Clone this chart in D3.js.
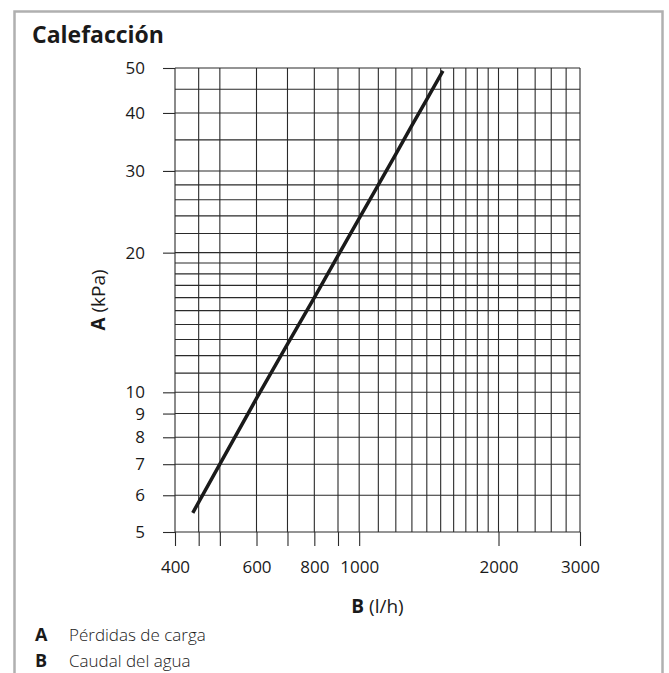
<!DOCTYPE html>
<html>
<head>
<meta charset="utf-8">
<script src="https://cdn.jsdelivr.net/npm/d3@7"></script>
<style>
  body { margin: 0; background: #fff; }
  svg text { font-family: "Open Sans", "Noto Sans", sans-serif; fill: #1a1a1a; }
</style>
</head>
<body>
<svg id="chart" width="669" height="673"></svg>
<script>
// caudal (l/h) y pérdidas de carga (kPa)
var flow = [437, 500, 600, 700, 800, 900, 1000, 1100, 1200, 1300, 1400, 1517];
var pressure = [5.5, 7.0, 9.7, 12.7, 16.0, 19.7, 23.7, 28.0, 32.6, 37.6, 42.8, 49.3];

var flowLabels = [400, 600, 800, 1000, 2000, 3000];
var flowTickMarks = [400, 450, 500, 600, 700, 800, 900, 1000, 2000, 3000];
var flowGrid = [400, 450, 500, 600, 700, 800, 900, 1000, 1100, 1200, 1300, 1400, 1500,
    1600, 1700, 1800, 1900, 2000, 2200, 2400, 2600, 2800, 3000];

var pressureLabels = [5, 6, 7, 8, 9, 10, 20, 30, 40, 50];
var pressureGrid = [5, 6, 7, 8, 9, 10, 11, 12, 13, 14, 15, 16, 17, 18, 19, 20,
    22, 24, 26, 28, 30, 35, 40, 45, 50];

var legendKeys = ["A", "B"];
var legendTexts = ["Pérdidas de carga", "Caudal del agua"];

(function() {

    var svg = d3.select("#chart"),
        left = 175, right = 580, top = 68, bottom = 532;

    var x = d3.scaleLog().domain([400, 3000]).range([left, right]),
        y = d3.scaleLog().domain([5, 50]).range([bottom, top]);

    // marco gris
    svg.append("rect")
        .attr("x", 14.5).attr("y", 11.5)
        .attr("width", 648).attr("height", 700)
        .attr("fill", "none")
        .attr("stroke", "#b0b0b0")
        .attr("stroke-width", 2.5);

    svg.append("text")
        .attr("x", 32).attr("y", 43)
        .attr("font-size", 23)
        .attr("font-weight", "bold")
        .text("Calefacción");

    // rejilla
    var grid = svg.append("g").attr("stroke", "#2a2a2a").attr("stroke-width", 1.1);

    grid.selectAll("line.v")
        .data(flowGrid)
        .enter().append("line")
        .attr("class", "v")
        .attr("x1", function(d) { return x(d); })
        .attr("x2", function(d) { return x(d); })
        .attr("y1", top).attr("y2", bottom);

    grid.selectAll("line.h")
        .data(pressureGrid)
        .enter().append("line")
        .attr("class", "h")
        .attr("x1", left).attr("x2", right)
        .attr("y1", function(d) { return y(d); })
        .attr("y2", function(d) { return y(d); });

    // ejes
    var xAxis = d3.axisBottom(x)
        .tickValues(flowTickMarks)
        .tickSize(14)
        .tickPadding(15)
        .tickFormat(function(d) { return flowLabels.indexOf(d) >= 0 ? d : ""; });

    var gx = svg.append("g")
        .attr("transform", "translate(0," + bottom + ")")
        .call(xAxis);

    var yAxis = d3.axisLeft(y)
        .tickValues(pressureLabels)
        .tickSize(12)
        .tickPadding(18)
        .tickFormat(d3.format("d"));

    var gy = svg.append("g")
        .attr("transform", "translate(" + left + ",0)")
        .call(yAxis);

    [gx, gy].forEach(function(g) {
        g.select(".domain").remove();
        g.selectAll(".tick line").attr("stroke", "#2a2a2a").attr("stroke-width", 1.1);
        g.selectAll(".tick text")
            .attr("font-size", 17)
            .attr("font-family", "\"Open Sans\", sans-serif")
            .attr("fill", "#1a1a1a");
    });

    // títulos de ejes
    var xt = svg.append("text")
        .attr("x", (left + right) / 2).attr("y", 613)
        .attr("text-anchor", "middle")
        .attr("font-size", 19);
    xt.append("tspan").attr("font-weight", "bold").text("B");
    xt.append("tspan").text(" (l/h)");

    var yt = svg.append("text")
        .attr("transform", "translate(105," + (top + bottom) / 2 + ") rotate(-90)")
        .attr("text-anchor", "middle")
        .attr("font-size", 19);
    yt.append("tspan").attr("font-weight", "bold").text("A");
    yt.append("tspan").text(" (kPa)");

    // curva
    var line = d3.line()
        .x(function(d, i) { return x(flow[i]); })
        .y(function(d) { return y(d); });

    svg.append("path")
        .datum(pressure)
        .attr("d", line)
        .attr("fill", "none")
        .attr("stroke", "#1a1a1a")
        .attr("stroke-width", 3.5);

    // leyenda
    var leg = svg.selectAll("g.leg")
        .data(legendKeys)
        .enter().append("g")
        .attr("class", "leg")
        .attr("transform", function(d, i) { return "translate(0," + (641 + i * 26) + ")"; });

    leg.append("text")
        .attr("x", 35)
        .attr("font-size", 18)
        .attr("font-weight", "bold")
        .text(function(d) { return d; });

    leg.append("text")
        .attr("x", 69)
        .attr("font-size", 17)
        .attr("font-weight", 300)
        .text(function(d, i) { return legendTexts[i]; });
})();
</script>
</body>
</html>
